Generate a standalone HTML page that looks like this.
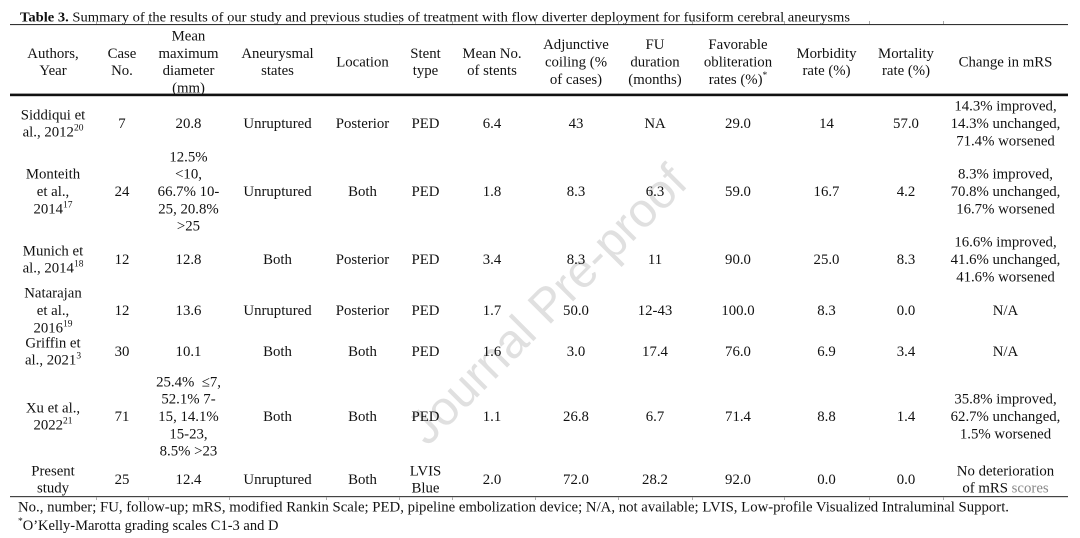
<!DOCTYPE html>
<html>
<head>
<meta charset="utf-8">
<style>
  html, body { margin: 0; padding: 0; background: #ffffff; }
  body { width: 1080px; height: 538px; overflow: hidden; }
  svg { display: block; }
  .t { font-family: "Liberation Serif", "Times New Roman", serif; font-size: 14.8px; fill: #111; text-anchor: middle; }
  .s { font-size: 9.5px; }
</style>
</head>
<body>
<svg width="1080" height="538" viewBox="0 0 1080 538" xmlns="http://www.w3.org/2000/svg">
  <rect width="1080" height="538" fill="#ffffff"/>

  <!-- watermark -->
  <g transform="translate(546.5,304) rotate(-45)">
    <text x="0" y="17" font-family="Liberation Sans, Arial, sans-serif" font-size="48" fill="#e0e0e0" text-anchor="middle">Journal Pre-proof</text>
  </g>

  <!-- title -->
  <text x="20" y="21.5" font-family="Liberation Serif, serif" font-size="14" fill="#111" textLength="830" lengthAdjust="spacingAndGlyphs"><tspan font-weight="bold">Table 3.</tspan> Summary of the results of our study and previous studies of treatment with flow diverter deployment for fusiform cerebral aneurysms</text>

  <!-- rules -->
  <rect x="10" y="24" width="1058" height="1.1" fill="#333"/>
  <rect x="10" y="93.6" width="1058" height="2.6" fill="#111"/>
  <rect x="10" y="496" width="1058" height="1.2" fill="#444"/>

  <!-- faint ticks -->
  <g fill="#aaa">
    <rect x="96" y="21" width="1" height="3"/><rect x="148" y="21" width="1" height="3"/>
    <rect x="229" y="21" width="1" height="3"/><rect x="326" y="21" width="1" height="3"/>
    <rect x="399" y="21" width="1" height="3"/><rect x="452" y="21" width="1" height="3"/>
    <rect x="535" y="21" width="1" height="3"/><rect x="618" y="21" width="1" height="3"/>
    <rect x="692" y="21" width="1" height="3"/><rect x="784" y="21" width="1" height="3"/>
    <rect x="869" y="21" width="1" height="3"/><rect x="943" y="21" width="1" height="3"/>
    <rect x="96" y="497" width="1" height="3"/><rect x="148" y="497" width="1" height="3"/>
    <rect x="229" y="497" width="1" height="3"/><rect x="326" y="497" width="1" height="3"/>
    <rect x="399" y="497" width="1" height="3"/><rect x="452" y="497" width="1" height="3"/>
    <rect x="535" y="497" width="1" height="3"/><rect x="618" y="497" width="1" height="3"/>
    <rect x="692" y="497" width="1" height="3"/><rect x="784" y="497" width="1" height="3"/>
    <rect x="869" y="497" width="1" height="3"/><rect x="943" y="497" width="1" height="3"/>
  </g>

  <!-- header -->
  <g class="t">
    <text x="53" y="57.9">Authors,</text><text x="53" y="75.2">Year</text>
    <text x="122" y="57.9">Case</text><text x="122" y="75.2">No.</text>
    <text x="188.5" y="40.6">Mean</text><text x="188.5" y="57.9">maximum</text><text x="188.5" y="75.2">diameter</text><text x="188.5" y="92.4">(mm)</text>
    <text x="277.5" y="57.9">Aneurysmal</text><text x="277.5" y="75.2">states</text>
    <text x="362.5" y="66.5">Location</text>
    <text x="425.5" y="57.9">Stent</text><text x="425.5" y="75.2">type</text>
    <text x="492" y="57.9">Mean No.</text><text x="492" y="75.2">of stents</text>
    <text x="576" y="49.2">Adjunctive</text><text x="576" y="66.5">coiling (%</text><text x="576" y="83.8">of cases)</text>
    <text x="655" y="49.2">FU</text><text x="655" y="66.5">duration</text><text x="655" y="83.8">(months)</text>
    <text x="738" y="49.2">Favorable</text><text x="738" y="66.5">obliteration</text><text x="738" y="83.8">rates (%)<tspan class="s" dy="-6">*</tspan></text>
    <text x="826.5" y="57.9">Morbidity</text><text x="826.5" y="75.2">rate (%)</text>
    <text x="906" y="57.9">Mortality</text><text x="906" y="75.2">rate (%)</text>
    <text x="1005.5" y="66.5">Change in mRS</text>
  </g>

  <!-- row 1: Siddiqui -->
  <g class="t">
    <text x="53" y="119.4">Siddiqui et</text><text x="53" y="136.7">al., 2012<tspan class="s" dy="-6">20</tspan></text>
    <text x="122" y="128">7</text>
    <text x="188.5" y="128">20.8</text>
    <text x="277.5" y="128">Unruptured</text>
    <text x="362.5" y="128">Posterior</text>
    <text x="425.5" y="128">PED</text>
    <text x="492" y="128">6.4</text>
    <text x="576" y="128">43</text>
    <text x="655" y="128">NA</text>
    <text x="738" y="128">29.0</text>
    <text x="826.5" y="128">14</text>
    <text x="906" y="128">57.0</text>
    <text x="1005.5" y="110.7">14.3% improved,</text><text x="1005.5" y="128">14.3% unchanged,</text><text x="1005.5" y="145.3">71.4% worsened</text>
  </g>

  <!-- row 2: Monteith -->
  <g class="t">
    <text x="53" y="178.7">Monteith</text><text x="53" y="196">et al.,</text><text x="53" y="213.3">2014<tspan class="s" dy="-6">17</tspan></text>
    <text x="122" y="196">24</text>
    <text x="188.5" y="161.4">12.5%</text><text x="188.5" y="178.7">&lt;10,</text><text x="188.5" y="196">66.7% 10-</text><text x="188.5" y="213.3">25, 20.8%</text><text x="188.5" y="230.6">&gt;25</text>
    <text x="277.5" y="196">Unruptured</text>
    <text x="362.5" y="196">Both</text>
    <text x="425.5" y="196">PED</text>
    <text x="492" y="196">1.8</text>
    <text x="576" y="196">8.3</text>
    <text x="655" y="196">6.3</text>
    <text x="738" y="196">59.0</text>
    <text x="826.5" y="196">16.7</text>
    <text x="906" y="196">4.2</text>
    <text x="1005.5" y="178.7">8.3% improved,</text><text x="1005.5" y="196">70.8% unchanged,</text><text x="1005.5" y="213.3">16.7% worsened</text>
  </g>

  <!-- row 3: Munich -->
  <g class="t">
    <text x="53" y="255.4">Munich et</text><text x="53" y="272.7">al., 2014<tspan class="s" dy="-6">18</tspan></text>
    <text x="122" y="264">12</text>
    <text x="188.5" y="264">12.8</text>
    <text x="277.5" y="264">Both</text>
    <text x="362.5" y="264">Posterior</text>
    <text x="425.5" y="264">PED</text>
    <text x="492" y="264">3.4</text>
    <text x="576" y="264">8.3</text>
    <text x="655" y="264">11</text>
    <text x="738" y="264">90.0</text>
    <text x="826.5" y="264">25.0</text>
    <text x="906" y="264">8.3</text>
    <text x="1005.5" y="246.7">16.6% improved,</text><text x="1005.5" y="264">41.6% unchanged,</text><text x="1005.5" y="281.3">41.6% worsened</text>
  </g>

  <!-- row 4: Natarajan -->
  <g class="t">
    <text x="53" y="297.7">Natarajan</text><text x="53" y="315">et al.,</text><text x="53" y="332.3">2016<tspan class="s" dy="-6">19</tspan></text>
    <text x="122" y="315">12</text>
    <text x="188.5" y="315">13.6</text>
    <text x="277.5" y="315">Unruptured</text>
    <text x="362.5" y="315">Posterior</text>
    <text x="425.5" y="315">PED</text>
    <text x="492" y="315">1.7</text>
    <text x="576" y="315">50.0</text>
    <text x="655" y="315">12-43</text>
    <text x="738" y="315">100.0</text>
    <text x="826.5" y="315">8.3</text>
    <text x="906" y="315">0.0</text>
    <text x="1005.5" y="315">N/A</text>
  </g>

  <!-- row 5: Griffin -->
  <g class="t">
    <text x="53" y="347.4">Griffin et</text><text x="53" y="364.7">al., 2021<tspan class="s" dy="-6">3</tspan></text>
    <text x="122" y="356">30</text>
    <text x="188.5" y="356">10.1</text>
    <text x="277.5" y="356">Both</text>
    <text x="362.5" y="356">Both</text>
    <text x="425.5" y="356">PED</text>
    <text x="492" y="356">1.6</text>
    <text x="576" y="356">3.0</text>
    <text x="655" y="356">17.4</text>
    <text x="738" y="356">76.0</text>
    <text x="826.5" y="356">6.9</text>
    <text x="906" y="356">3.4</text>
    <text x="1005.5" y="356">N/A</text>
  </g>

  <!-- row 6: Xu -->
  <g class="t">
    <text x="53" y="412.4">Xu et al.,</text><text x="53" y="429.7">2022<tspan class="s" dy="-6">21</tspan></text>
    <text x="122" y="421">71</text>
    <text x="188.5" y="386.4">25.4%&#160; ≤7,</text><text x="188.5" y="403.7">52.1% 7-</text><text x="188.5" y="421">15, 14.1%</text><text x="188.5" y="438.3">15-23,</text><text x="188.5" y="455.6">8.5% &gt;23</text>
    <text x="277.5" y="421">Both</text>
    <text x="362.5" y="421">Both</text>
    <text x="425.5" y="421">PED</text>
    <text x="492" y="421">1.1</text>
    <text x="576" y="421">26.8</text>
    <text x="655" y="421">6.7</text>
    <text x="738" y="421">71.4</text>
    <text x="826.5" y="421">8.8</text>
    <text x="906" y="421">1.4</text>
    <text x="1005.5" y="403.7">35.8% improved,</text><text x="1005.5" y="421">62.7% unchanged,</text><text x="1005.5" y="438.3">1.5% worsened</text>
  </g>

  <!-- row 7: Present study -->
  <g class="t">
    <text x="53" y="475.4">Present</text><text x="53" y="492.7">study</text>
    <text x="122" y="484">25</text>
    <text x="188.5" y="484">12.4</text>
    <text x="277.5" y="484">Unruptured</text>
    <text x="362.5" y="484">Both</text>
    <text x="425.5" y="475.4">LVIS</text><text x="425.5" y="492.7">Blue</text>
    <text x="492" y="484">2.0</text>
    <text x="576" y="484">72.0</text>
    <text x="655" y="484">28.2</text>
    <text x="738" y="484">92.0</text>
    <text x="826.5" y="484">0.0</text>
    <text x="906" y="484">0.0</text>
    <text x="1005.5" y="475.4">No deterioration</text><text x="1005.5" y="492.7">of mRS <tspan fill="#888">scores</tspan></text>
  </g>

  <!-- footnotes -->
  <text x="18" y="511.5" font-family="Liberation Serif, serif" font-size="14.5" fill="#111" textLength="991" lengthAdjust="spacingAndGlyphs">No., number; FU, follow-up; mRS, modified Rankin Scale; PED, pipeline embolization device; N/A, not available; LVIS, Low-profile Visualized Intraluminal Support.</text>
  <text x="18" y="530" font-family="Liberation Serif, serif" font-size="14.5" fill="#111"><tspan font-size="9.5" dy="-6">*</tspan><tspan dy="6">O’Kelly-Marotta grading scales C1-3 and D</tspan></text>
</svg>
</body>
</html>
